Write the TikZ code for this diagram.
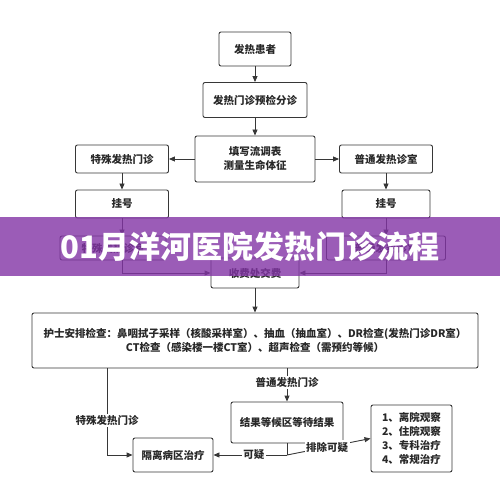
\documentclass[tikz,border=0pt]{standalone}
\usepackage{fontspec}
\setmainfont{Noto Sans CJK SC}
\usepackage{xcolor}
\usepackage{tikz}
\usetikzlibrary{arrows.meta,positioning,calc}
\definecolor{lineink}{RGB}{55,55,55}
\definecolor{textink}{RGB}{40,40,40}
\definecolor{bandpurple}{RGB}{130,52,165}

\begin{document}
\begin{tikzpicture}[x=1pt,y=-1pt,>={Triangle[length=6pt,width=5pt]},
  flowbox/.style={draw=lineink,line width=0.9pt,rounded corners=2pt,fill=white,
    text=textink,align=center,inner sep=0pt,font=\fontsize{10.5}{14}\selectfont\bfseries},
  flowline/.style={lineink,line width=0.9pt},
  linelabel/.style={fill=white,text=textink,inner sep=1.5pt,font=\fontsize{10.5}{13}\selectfont\bfseries}]
  \useasboundingbox (0,0) rectangle (500,494);
  \fill[white] (0,0) rectangle (500,494);
  % top column
  \node[flowbox,minimum width=72pt,minimum height=34pt] (patient) at (255,49) {发热患者};
  \node[flowbox,minimum width=104pt,minimum height=35pt] (triage) at (255,100) {发热门诊预检分诊};
  \node[flowbox,minimum width=120pt,minimum height=46pt] (survey) at (255,159) {填写流调表\\测量生命体征};
  \draw[flowline,->] (patient) -- (triage);
  \draw[flowline,->] (triage) -- (survey);
  % two branches
  \node[flowbox,minimum width=93pt,minimum height=28pt] (special) at (122,159) {特殊发热门诊};
  \node[flowbox,minimum width=93pt,minimum height=28pt] (normal) at (386,159) {普通发热诊室};
  \draw[flowline,->] (survey) -- (special);
  \draw[flowline,->] (survey) -- (normal);
  \node[flowbox,minimum width=93pt,minimum height=28pt] (regleft) at (122,204) {挂号};
  \node[flowbox,minimum width=88pt,minimum height=28pt] (regright) at (386,204) {挂号};
  \draw[flowline,->] (special) -- (regleft);
  \draw[flowline,->] (normal) -- (regright);
  % boxes under the title band
  \node[flowbox,minimum width=106pt,minimum height=24pt] (docleft) at (113,248) {特殊发热诊室};
  \node[flowbox,minimum width=119pt,minimum height=24pt] (docright) at (386,248) {普通发热诊室};
  \draw[flowline,->] (regleft) -- (regleft |- docleft.north);
  \draw[flowline,->] (regright) -- (docright);
  \node[flowbox,minimum width=88pt,minimum height=30pt] (pay) at (255,273) {收费处交费};
  \draw[flowline,->] (docleft.south -| regleft) |- (pay.west);
  \draw[flowline,->] (docright) |- (pay.east);
  % examinations
  \node[flowbox,minimum width=446pt,minimum height=55pt] (exam) at (255,340.5)
    {护士安排检查：鼻咽拭子采样（核酸采样室）、抽血（抽血室）、DR检查(发热门诊DR室）\\CT检查（感染楼一楼CT室）、超声检查（需预约等候）};
  \draw[flowline,->] (pay) -- (exam);
  % results and treatment
  \node[flowbox,minimum width=112pt,minimum height=41pt] (wait) at (287,422.5) {结果等候区等待结果};
  \node[flowbox,minimum width=80pt,minimum height=34pt] (isolate) at (173,455) {隔离病区治疗};
  \node[flowbox,minimum width=81pt,minimum height=67pt,align=left] (outcome) at (411.5,438.5)
    {1、离院观察\\2、住院观察\\3、专科治疗\\4、常规治疗};
  \coordinate (split) at (wait.south |- isolate);
  \draw[flowline,->] (exam.south -| 107,0) |- (isolate.west)
    node[linelabel,pos=0.3] {特殊发热门诊};
  \draw[flowline,->] (exam.south -| wait) -- (wait.north)
    node[linelabel,pos=0.42] {普通发热门诊};
  \draw[flowline] (wait.south) -- (split);
  \draw[flowline,->] (split) -- (isolate.east) node[linelabel,pos=0.45] {可疑};
  \draw[flowline,->] (split) -- (outcome.west) node[linelabel,pos=0.48] {排除可疑};
  % title band
  \fill[bandpurple,opacity=0.8] (0,217) rectangle (500,276);
  \node[text=white,font=\fontsize{31}{36}\selectfont\bfseries] (title) at (250,247) {01月洋河医院发热门诊流程};
\end{tikzpicture}
\end{document}
